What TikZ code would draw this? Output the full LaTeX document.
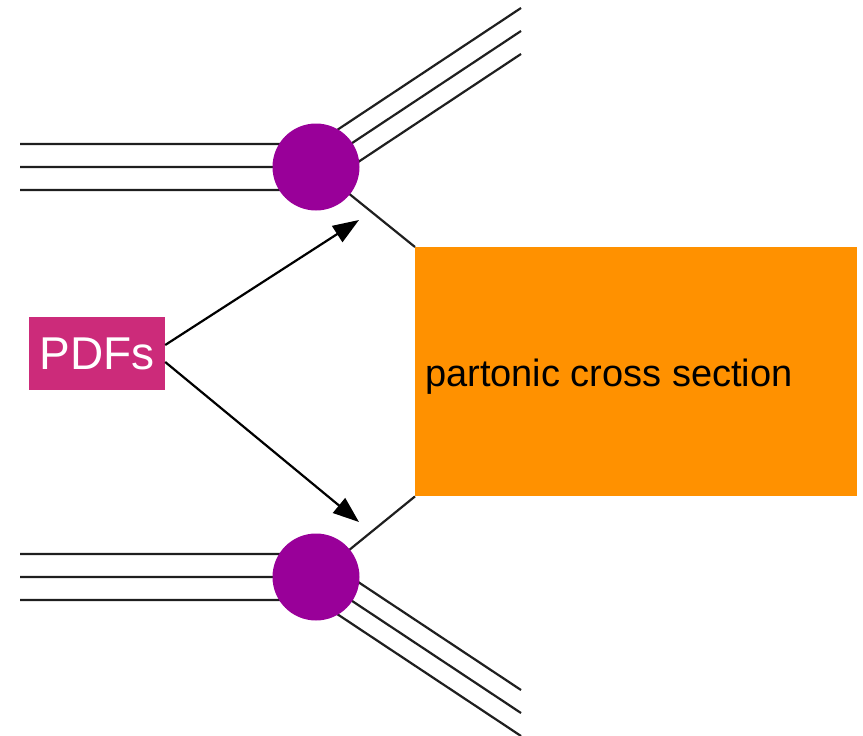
\documentclass[tikz,border=0pt]{standalone}
\usepackage{fontspec}
\setmainfont{Liberation Sans}
\usetikzlibrary{arrows.meta}
\definecolor{blobc}{HTML}{990099}
\definecolor{boxc}{HTML}{FF9100}
\definecolor{pdfc}{HTML}{CC2B7A}
\begin{document}
\begin{tikzpicture}[x=1pt,y=-1pt,
  leg/.style={line width=2.2pt, black!88},
  arr/.style={line width=2.2pt, black, -{Triangle[length=26pt,width=19pt]}},
  blob/.style={circle, fill=blobc, draw=none, minimum size=87pt, inner sep=0pt},
  xsbox/.style={fill=boxc, draw=none, minimum width=442pt, minimum height=249pt, inner sep=0pt, anchor=north west},
  pdfbox/.style={fill=pdfc, text=white, minimum width=136pt, minimum height=73pt, inner sep=0pt, font=\fontsize{46}{48}\selectfont}]
\useasboundingbox (0,0) rectangle (863,736);
% cross-section box and label
\node[xsbox] (xs) at (415,247) {};
\node[anchor=base west, inner sep=0pt, font=\fontsize{38}{40}\selectfont] (lbl) at (425,386) {partonic cross section};
\node[pdfbox] (pdf) at (97,353.5) {PDFs};
% blob centres
\coordinate (c1) at (316,167);
\coordinate (c2) at (316,577);
% free ends
\coordinate (i1a) at (20,144); \coordinate (i1b) at (20,167); \coordinate (i1c) at (20,190);
\coordinate (m1a) at (316,144); \coordinate (m1b) at (316,167); \coordinate (m1c) at (316,190);
\coordinate (o1a) at (521,8); \coordinate (o1b) at (521,31); \coordinate (o1c) at (521,54);
\coordinate (i2a) at (20,554); \coordinate (i2b) at (20,577); \coordinate (i2c) at (20,600);
\coordinate (m2a) at (316,554); \coordinate (m2b) at (316,577); \coordinate (m2c) at (316,600);
\coordinate (o2a) at (521,690); \coordinate (o2b) at (521,713); \coordinate (o2c) at (521,736);
\coordinate (t1) at (359,220);
\coordinate (t2) at (359,522);
% legs
\draw[leg] (i1a) -- (m1a) -- (o1a);
\draw[leg] (i1b) -- (m1b) -- (o1b);
\draw[leg] (i1c) -- (m1c) -- (o1c);
\draw[leg] (i2a) -- (m2a) -- (o2a);
\draw[leg] (i2b) -- (m2b) -- (o2b);
\draw[leg] (i2c) -- (m2c) -- (o2c);
\draw[leg] (c1) -- (xs.north west);
\draw[leg] (c2) -- (xs.south west);
% blobs
\node[blob] (b1) at (c1) {};
\node[blob] (b2) at (c2) {};
% arrows
\draw[arr] ([yshift=8.5pt]pdf.east) -- (t1);
\draw[arr] ([yshift=-8.5pt]pdf.east) -- (t2);
\end{tikzpicture}
\end{document}
